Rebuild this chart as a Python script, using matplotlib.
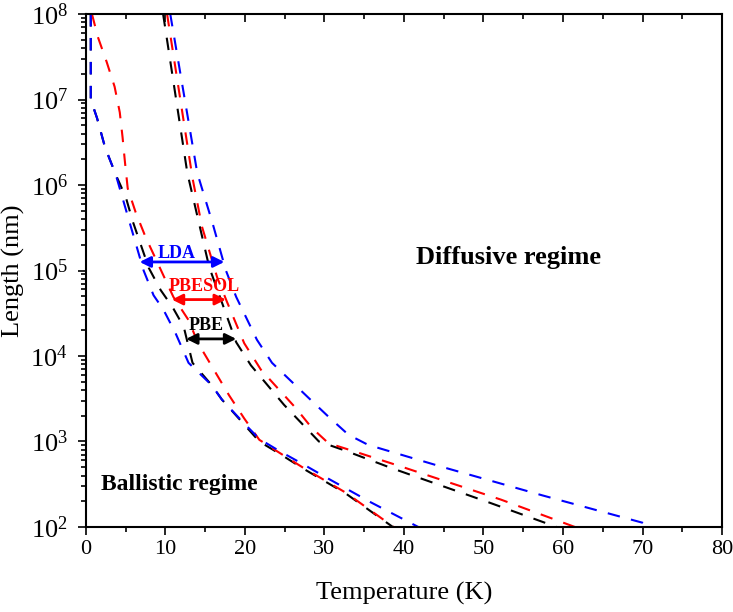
import numpy as np
import matplotlib.pyplot as plt
import matplotlib.lines as mlines
from matplotlib.ticker import MultipleLocator, LogLocator

plt.rcParams['font.family'] = 'Liberation Serif'
plt.rcParams['mathtext.fontset'] = 'custom'
plt.rcParams['mathtext.rm'] = 'Liberation Serif'

# data: temperature (K) and log10 of length (nm)
lda_left_T = [0.6, 0.6, 1.4, 2.4, 3.75, 5.4, 7.25, 8.5, 9.75, 11.25, 12.9, 15.8, 17.1, 19.5, 21.8, 24.3, 27.2, 30.2, 35.8, 41.8]
lda_left_L = [8.0, 7.0, 6.78, 6.44, 6.12, 5.59, 5.0, 4.71, 4.54, 4.27, 3.92, 3.66, 3.49, 3.25, 3.03, 2.89, 2.74, 2.58, 2.29, 2.0]
lda_right_T = [10.6, 14.0, 15.9, 17.6, 18.9, 21.5, 23.4, 28.0, 30.5, 33.0, 35.5, 44.9, 57.4, 70.0, 70.9]
lda_right_L = [8.0, 6.14, 5.56, 5.0, 4.69, 4.19, 3.92, 3.51, 3.29, 3.08, 2.96, 2.70, 2.37, 2.05, 2.0]

pbesol_left_T = [0.75, 1.5, 2.6, 3.6, 4.25, 4.6, 4.9, 5.25, 6.25, 7.5, 11.0, 12.9, 14.1, 18.0, 19.9, 21.8, 24.3, 27.2, 32.7, 38.7]
pbesol_left_L = [8.0, 7.73, 7.44, 7.15, 6.85, 6.56, 6.27, 5.96, 5.68, 5.39, 4.69, 4.42, 4.15, 3.54, 3.27, 3.02, 2.87, 2.70, 2.40, 2.0]
pbesol_right_T = [10.2, 13.4, 14.6, 16.5, 17.75, 19.9, 22.0, 26.4, 28.4, 30.5, 33.9, 40.2, 52.2, 61.5]
pbesol_right_L = [8.0, 6.08, 5.51, 4.92, 4.63, 4.15, 3.84, 3.39, 3.16, 2.98, 2.88, 2.69, 2.32, 2.0]

pbe_left_T = [0.6, 0.6, 1.4, 2.4, 3.75, 5.0, 5.9, 6.9, 7.9, 9.4, 10.9, 12.3, 13.4, 15.8, 17.1, 19.6, 21.8, 24.3, 27.2, 32.7, 38.6]
pbe_left_L = [8.0, 7.0, 6.78, 6.44, 6.12, 5.86, 5.57, 5.3, 5.03, 4.77, 4.57, 4.34, 3.92, 3.66, 3.49, 3.23, 3.0, 2.86, 2.69, 2.39, 2.0]
pbe_right_T = [9.7, 12.75, 15.5, 18.9, 20.75, 24.9, 29.3, 32.4, 38.4, 50.6, 59.2]
pbe_right_L = [8.0, 6.14, 5.04, 4.16, 3.89, 3.43, 3.0, 2.9, 2.69, 2.29, 2.0]

# arrow spans: (T start, T end, log10 L)
lda_arrow = (6.75, 17.4, 5.1)
pbesol_arrow = (10.8, 17.6, 4.66)
pbe_arrow = (12.6, 18.9, 4.2)

fig = plt.figure(figsize=(7.33, 6.12), dpi=100)
ax = fig.add_axes([0.1173, 0.1389, 0.8677, 0.8382])

dash = (6, 5.5)
curves = [
    (pbe_left_T, pbe_left_L, 'black'),
    (pbe_right_T, pbe_right_L, 'black'),
    (pbesol_left_T, pbesol_left_L, 'red'),
    (pbesol_right_T, pbesol_right_L, 'red'),
    (lda_left_T, lda_left_L, 'blue'),
    (lda_right_T, lda_right_L, 'blue'),
]
for t, l, c in curves:
    ax.plot(t, 10 ** np.array(l), color=c, lw=1.5, dashes=dash)

for (t0, t1, l), c, name, lab in [(lda_arrow, 'blue', 'LDA', (11.4, 5.2)),
                                  (pbesol_arrow, 'red', 'PBESOL', (14.9, 4.81)),
                                  (pbe_arrow, 'black', 'PBE', (15.1, 4.36))]:
    ax.annotate('', xy=(t1, 10 ** l), xytext=(t0, 10 ** l),
                arrowprops=dict(arrowstyle='<|-|>', color=c, lw=2, mutation_scale=16,
                                shrinkA=0, shrinkB=0))
    ax.text(lab[0], 10 ** lab[1], name, color=c, fontsize=13, fontweight='bold',
            ha='center', va='center')

ax.text(53.1, 10 ** 5.15, 'Diffusive regime', fontsize=19, fontweight='bold',
        ha='center', va='center')
ax.text(11.8, 10 ** 2.5, 'Ballistic regime', fontsize=17, fontweight='bold',
        ha='center', va='center')

ax.set_yscale('log')
ax.set_xlim(0, 80)
ax.set_ylim(1e2, 1e8)
ax.xaxis.set_major_locator(MultipleLocator(10))
ax.xaxis.set_minor_locator(MultipleLocator(5))
ax.yaxis.set_major_locator(LogLocator(base=10, numticks=10))
ax.yaxis.set_minor_locator(LogLocator(base=10, subs=np.arange(2, 10), numticks=20))
ax.tick_params(which='both', direction='out', width=1.2, top=True)
ax.tick_params(axis='x', labelsize=16)
ax.tick_params(axis='y', labelsize=19, pad=7)
ax.tick_params(which='major', length=6)
ax.tick_params(which='minor', length=3.5)
for s in ax.spines.values():
    s.set_linewidth(1.5)

# top ticks point inward
for tk in ax.xaxis.get_major_ticks() + ax.xaxis.get_minor_ticks():
    tk.tick2line.set_marker(mlines.TICKDOWN)

ax.set_xlabel('Temperature (K)', fontsize=19, labelpad=16)
ax.set_ylabel('Length (nm)', fontsize=19, labelpad=4)

fig.savefig('out.png', dpi=100)
